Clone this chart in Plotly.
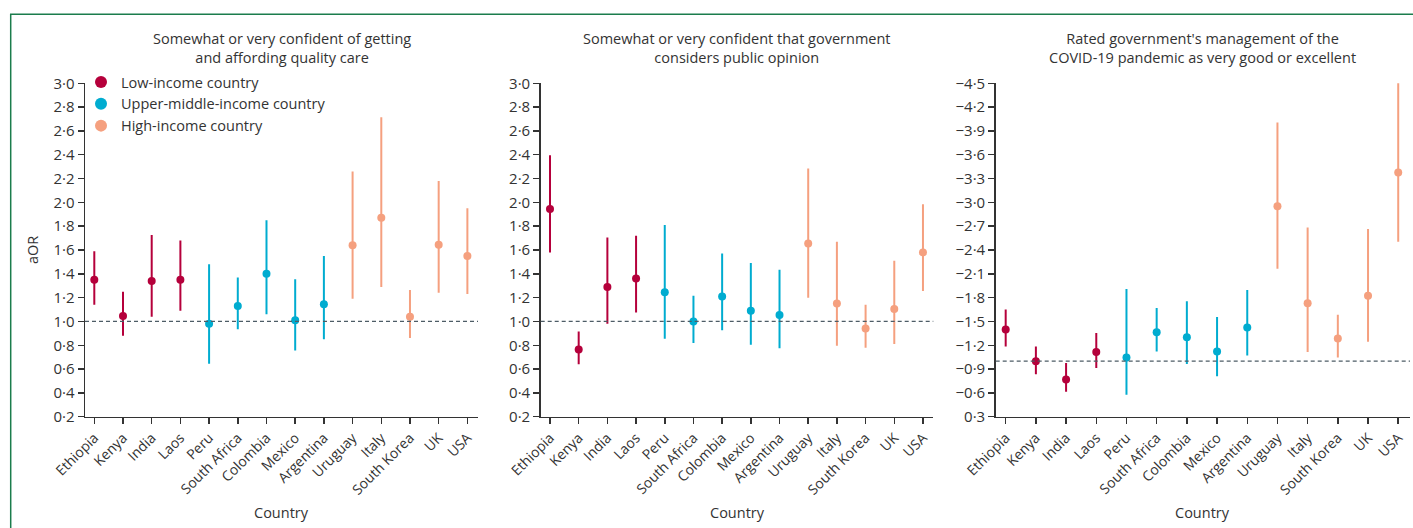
import plotly.graph_objects as go

countries = ["Ethiopia", "Kenya", "India", "Laos", "Peru", "South Africa", "Colombia",
             "Mexico", "Argentina", "Uruguay", "Italy", "South Korea", "UK", "USA"]
income = ["Low", "Low", "Low", "Low", "Upper", "Upper", "Upper", "Upper", "Upper",
          "High", "High", "High", "High", "High"]

# Panel 1: getting and affording quality care
care_est = [1.35, 1.045, 1.34, 1.35, 0.98, 1.13, 1.40, 1.01, 1.145, 1.64, 1.87, 1.04, 1.645, 1.55]
care_lo = [1.14, 0.88, 1.04, 1.09, 0.645, 0.935, 1.06, 0.755, 0.85, 1.19, 1.29, 0.86, 1.24, 1.23]
care_hi = [1.59, 1.25, 1.725, 1.68, 1.48, 1.37, 1.85, 1.355, 1.55, 2.26, 2.715, 1.265, 2.18, 1.95]

# Panel 2: government considers public opinion
opin_est = [1.945, 0.765, 1.29, 1.36, 1.245, 1.0, 1.21, 1.09, 1.055, 1.655, 1.15, 0.94, 1.105, 1.58]
opin_lo = [1.58, 0.64, 0.98, 1.075, 0.855, 0.82, 0.925, 0.805, 0.775, 1.20, 0.795, 0.78, 0.81, 1.255]
opin_hi = [2.395, 0.915, 1.705, 1.72, 1.81, 1.215, 1.57, 1.49, 1.435, 2.285, 1.67, 1.14, 1.51, 1.985]

# Panel 3: rated government's COVID-19 management
mgmt_est = [1.40, 1.0, 0.77, 1.115, 1.045, 1.365, 1.30, 1.12, 1.425, 2.95, 1.73, 1.285, 1.825, 3.375]
mgmt_lo = [1.185, 0.835, 0.615, 0.915, 0.575, 1.12, 0.965, 0.81, 1.07, 2.165, 1.115, 1.045, 1.245, 2.505]
mgmt_hi = [1.65, 1.185, 0.975, 1.355, 1.91, 1.67, 1.755, 1.555, 1.895, 4.005, 2.685, 1.585, 2.665, 4.54]

titles = ["Somewhat or very confident of getting<br>and affording quality care",
          "Somewhat or very confident that government<br>considers public opinion",
          "Rated government's management of the<br>COVID-19 pandemic as very good or excellent"]

ticks_a = [0.2, 0.4, 0.6, 0.8, 1.0, 1.2, 1.4, 1.6, 1.8, 2.0, 2.2, 2.4, 2.6, 2.8, 3.0]
ticks_b = [0.3, 0.6, 0.9, 1.2, 1.5, 1.8, 2.1, 2.4, 2.7, 3.0, 3.3, 3.6, 3.9, 4.2, 4.5]
ticktext_a = [f"{v:.1f}".replace(".", "·") for v in ticks_a]
ticktext_b = [("" if v < 0.5 else "−") + f"{v:.1f}".replace(".", "·") for v in ticks_b]

groups = [("Low", "Low-income country", "#b5003b"),
          ("Upper", "Upper-middle-income country", "#00acd0"),
          ("High", "High-income country", "#f5a07f")]

panels = [(care_est, care_lo, care_hi), (opin_est, opin_lo, opin_hi), (mgmt_est, mgmt_lo, mgmt_hi)]

W, H = 1413, 528
FONT = "Open Sans"
TXT = "#333333"

fig = go.Figure()
for p, (est, lo, hi) in enumerate(panels):
    ax = "" if p == 0 else str(p + 1)
    for key, name, col in groups:
        idx = [i for i, g in enumerate(income) if g == key]
        fig.add_trace(go.Scatter(
            x=[i for i in idx], y=[est[i] for i in idx],
            mode="markers", name=name, legendgroup=key, showlegend=(p == 0),
            marker=dict(color=col, size=8, line=dict(width=0)),
            error_y=dict(type="data", symmetric=False,
                         array=[hi[i] - est[i] for i in idx],
                         arrayminus=[est[i] - lo[i] for i in idx],
                         color=col, thickness=2, width=0),
            xaxis="x" + ax, yaxis="y" + ax, hoverinfo="skip"))

xdomains = [(85 / W, 478 / W), (540.7 / W, 933.3 / W), (995.7 / W, 1410 / W)]
xranges = [(-0.324, 13.37), (-0.324, 13.36), (-0.331, 13.39)]
ydom = (1 - 416.7 / H, 1 - 83.3 / H)

axis_common = dict(showline=True, linecolor=TXT, linewidth=1.5, ticks="outside",
                   tickcolor=TXT, tickwidth=1.5, showgrid=False, zeroline=False,
                   automargin=False,
                   tickfont=dict(family=FONT, size=15, color=TXT))
layout = dict(width=W, height=H, margin=dict(l=0, r=0, t=0, b=0, pad=0, autoexpand=False),
              paper_bgcolor="white", plot_bgcolor="white",
              font=dict(family=FONT, color=TXT),
              showlegend=True,
              legend=dict(x=81 / W, y=1 - 66 / H, xanchor="left", yanchor="top",
                          bgcolor="rgba(0,0,0,0)", font=dict(family=FONT, size=14.5, color=TXT),
                          itemsizing="constant", itemwidth=30, tracegroupgap=0))
shapes = []
annotations = []
for p in range(3):
    sfx = "" if p == 0 else str(p + 1)
    layout["xaxis" + sfx] = dict(axis_common, domain=list(xdomains[p]), range=list(xranges[p]),
                                 tickmode="array", tickvals=list(range(len(countries))),
                                 ticktext=countries, tickangle=-45, ticklen=6,
                                 anchor="y" + sfx,
                                 tickfont=dict(family=FONT, size=14, color=TXT))
    if p < 2:
        yr, tv, tt = [0.2, 3.0], ticks_a, ticktext_a
    else:
        yr, tv, tt = [0.3, 4.5], ticks_b, ticktext_b
    layout["yaxis" + sfx] = dict(axis_common, domain=list(ydom), range=yr, tickmode="array",
                                 tickvals=tv, ticktext=tt, ticklen=6, anchor="x" + sfx)
    shapes.append(dict(type="line", xref="x" + sfx + " domain", yref="y" + sfx,
                       x0=0, x1=1, y0=1.0, y1=1.0,
                       line=dict(color="#4d5c66", width=1.2, dash="4px,3px")))
    cx = (xdomains[p][0] + xdomains[p][1]) / 2
    annotations.append(dict(text=titles[p], xref="paper", yref="paper", x=cx, y=1 - 48 / H,
                            xanchor="center", yanchor="middle", showarrow=False,
                            font=dict(family=FONT, size=14.5, color=TXT)))
    annotations.append(dict(text="Country", xref="paper", yref="paper", x=cx, y=1 - 512 / H,
                            xanchor="center", yanchor="middle", showarrow=False,
                            font=dict(family=FONT, size=14.5, color=TXT)))

annotations.append(dict(text="aOR", xref="paper", yref="paper", x=32 / W, y=1 - 250 / H,
                        xanchor="center", yanchor="middle", textangle=-90, showarrow=False,
                        font=dict(family=FONT, size=14.5, color=TXT)))
shapes.append(dict(type="rect", xref="paper", yref="paper", x0=10.7 / W, x1=1.02,
                   y0=-0.05, y1=1 - 14.3 / H, line=dict(color="#1b7c4c", width=1.5)))
layout["shapes"] = shapes
layout["annotations"] = annotations
fig.update_layout(**layout)
fig.write_html("out.html", config={"displayModeBar": False, "staticPlot": True},
               post_script="document.body.style.margin='0';document.body.style.overflow='hidden';")
